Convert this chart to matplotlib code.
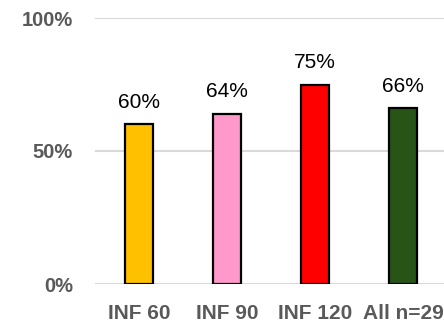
import matplotlib.pyplot as plt
from matplotlib.ticker import FuncFormatter

groups = ["INF 60", "INF 90", "INF 120", "All n=29"]
rates = [0.60, 0.64, 0.75, 0.66]
colors = ["#FFC000", "#FF99CC", "#FF0000", "#285418"]
yticks = [0, 0.5, 1.0]

plt.rcParams["font.family"] = ["Liberation Sans", "DejaVu Sans"]

fig = plt.figure(figsize=(4.44, 3.23), dpi=100)
ax = fig.add_axes([95 / 444, 39 / 323, 349 / 444, 266 / 323])

x = range(len(groups))
ax.bar(x, rates, width=0.32, color=colors, edgecolor="black", linewidth=1.6, zorder=3)

for i, v in zip(x, rates):
    ax.annotate(f"{v:.0%}", (i, v), xytext=(0, 12), textcoords="offset points",
                ha="center", va="baseline", fontsize=15, color="black")

ax.set_ylim(0, 1)
ax.set_xlim(-0.5, 3.5 - 3 / 88)
ax.set_yticks(yticks)
ax.yaxis.set_major_formatter(FuncFormatter(lambda v, _: f"{v:.0%}"))
ax.set_xticks(list(x))
ax.set_xticklabels(groups)
ax.tick_params(axis="y", length=0, pad=16, labelsize=14.5, labelcolor="#595959")
ax.tick_params(axis="x", length=0, pad=14.5, labelsize=15, labelcolor="#595959")
for lab in ax.get_xticklabels() + ax.get_yticklabels():
    lab.set_fontweight("bold")

ax.grid(axis="y", color="#d9d9d9", linewidth=1.5, zorder=0)
for s in ax.spines.values():
    s.set_visible(False)

fig.savefig("out.png", dpi=100)
